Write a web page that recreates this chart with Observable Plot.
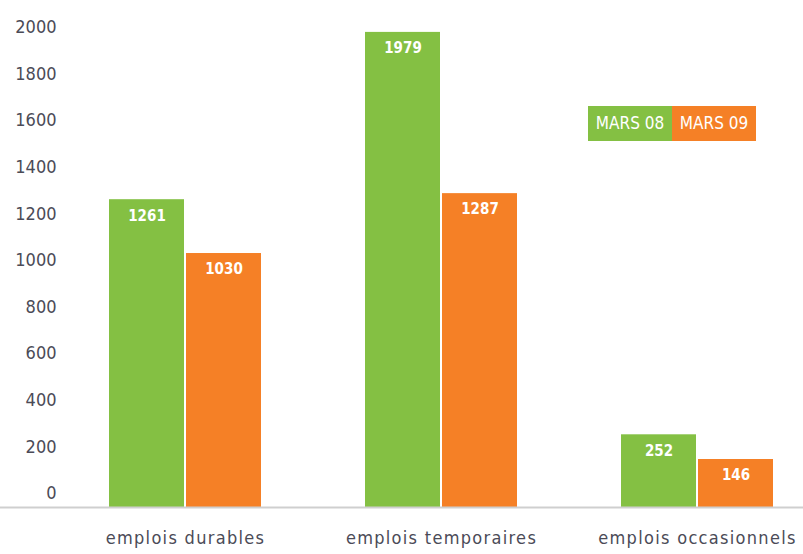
<!DOCTYPE html>
<html><head><meta charset="utf-8">
<script src="https://cdn.jsdelivr.net/npm/d3@7"></script>
<script src="https://cdn.jsdelivr.net/npm/@observablehq/plot@0.6"></script>
<style>
body{margin:0;background:#fff;}
#wrap{position:relative;width:803px;height:554px;}
#legend{position:absolute;left:588px;top:106px;display:flex;font-family:"DejaVu Sans Condensed","DejaVu Sans",sans-serif;font-size:17px;color:#fff;}
#legend div{width:84px;height:35px;line-height:35px;text-align:center;}
</style></head>
<body><div id="wrap"><div id="legend"></div></div>
<script>
const categories = ["emplois durables", "emplois temporaires", "emplois occasionnels"];
const series = ["MARS 08", "MARS 09"];
const mars08 = [1261, 1979, 252];
const mars09 = [1030, 1287, 146];
const colors = ["#84c043", "#f58026"];
const yTicks = [0, 200, 400, 600, 800, 1000, 1200, 1400, 1600, 1800, 2000];
const yDomain = [-60, 2000];

const data = [];
categories.forEach((c, i) => {
  data.push({category: c, series: series[0], value: mars08[i]});
  data.push({category: c, series: series[1], value: mars09[i]});
});
const font = "DejaVu Sans Condensed, DejaVu Sans, sans-serif";
const chart = Plot.plot({
  width: 803, height: 554,
  marginLeft: 108, marginRight: 30, marginTop: 27, marginBottom: 47,
  style: {fontFamily: font, background: "#fff"},
  fx: {domain: categories, paddingInner: 0.4074, paddingOuter: 0, label: null},
  x: {domain: series, paddingInner: 0.026, paddingOuter: 0, axis: null},
  y: {domain: yDomain, label: null},
  color: {domain: series, range: colors},
  marks: [
    Plot.barY(data, {fx: "category", x: "series", y1: () => yDomain[0], y2: "value", fill: "series"}),
    Plot.text(data, {fx: "category", x: "series", y: "value", text: d => String(d.value), dy: 16, fill: "white", fontWeight: "bold", fontSize: 15}),
    Plot.axisY(yTicks, {tickSize: 0, tickPadding: 53, fontSize: 18, fill: "#4b4b57", label: null, tickFormat: d => String(d)}),
    Plot.axisFx({anchor: "bottom", tickSize: 0, tickPadding: 24, fontSize: 18, fill: "#4b4b57", label: null})
  ]
});
document.getElementById("wrap").prepend(chart);
d3.select(chart).selectAll('g[aria-label="fx-axis tick label"] text').style("letter-spacing", "1.3px");
const yb = chart.scale("y").apply(yDomain[0]);
d3.select(chart).append("line").attr("x1", 0).attr("x2", 803).attr("y1", yb + 0.5).attr("y2", yb + 0.5)
  .attr("stroke", "#cfcfcf").attr("stroke-width", 2);
const lg = d3.select("#legend");
series.forEach((s, i) => lg.append("div").style("background", colors[i]).text(s));
</script></body></html>
